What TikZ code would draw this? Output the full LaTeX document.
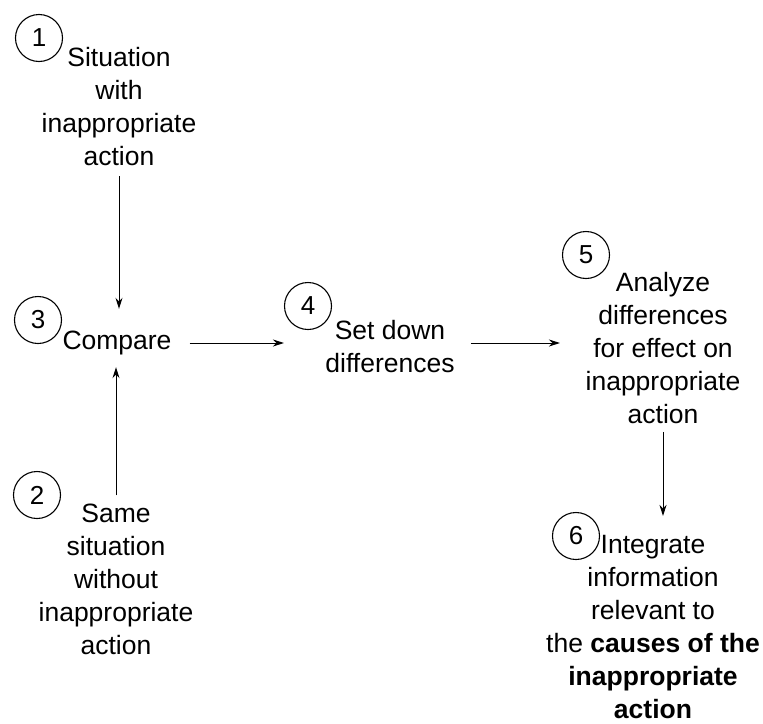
\documentclass[tikz,border=0pt]{standalone}
\usepackage{fontspec}
\setmainfont{Liberation Sans}
\usetikzlibrary{arrows.meta, positioning}

\begin{document}
\begin{tikzpicture}[
  x=1pt, y=-1pt,
  num/.style={circle, draw, line width=1.1pt, minimum size=47pt, inner sep=0pt,
    font=\fontsize{26}{33}\selectfont},
  txt/.style={align=center, inner sep=0pt, font=\fontsize{26.5}{33}\selectfont},
  arr/.style={-{Stealth[length=11pt, width=7pt]}, line width=1pt}
]
\useasboundingbox (0,0) rectangle (763,723);

% steps
\node[num] (c1) at (39,38)   {1};
\node[num] (c2) at (37,495)  {2};
\node[num] (c3) at (38,320)  {3};
\node[num] (c4) at (308,306) {4};
\node[num] (c5) at (586,255) {5};
\node[num] (c6) at (576,536) {6};

\node[txt] (t1) at (119,107) {Situation\\with\\inappropriate\\action};
\node[txt] (t3) at (117,343) {Compare};
\node[txt] (t2) at (116,579) {Same\\situation\\without\\inappropriate\\action};
\node[txt] (t4) at (390,347) {Set down\\differences};
\node[txt] (t5) at (663,348) {Analyze\\differences\\for effect on\\inappropriate\\action};
\node[txt] (t6) at (653,627) {Integrate\\information\\relevant to\\the \textbf{causes of the}\\\textbf{inappropriate}\\\textbf{action}};

% arrows
\draw[arr, shorten <=10pt, shorten >=22pt] (t1.south) -- (t1.south |- t3.north);
\draw[arr, shorten <=8pt, shorten >=12pt] (t2.north) -- (t2.north |- t3.south);
\draw[arr, shorten <=18pt] (t3.east) -- (t3.east -| c4.west);
\draw[arr, shorten <=16pt, shorten >=2pt] (t4.east |- t3.east) -- (t3.east -| c5.west);
\draw[arr, shorten <=8pt, shorten >=-4pt] (t5.south) -- (t5.south |- c6.north);
\end{tikzpicture}
\end{document}
